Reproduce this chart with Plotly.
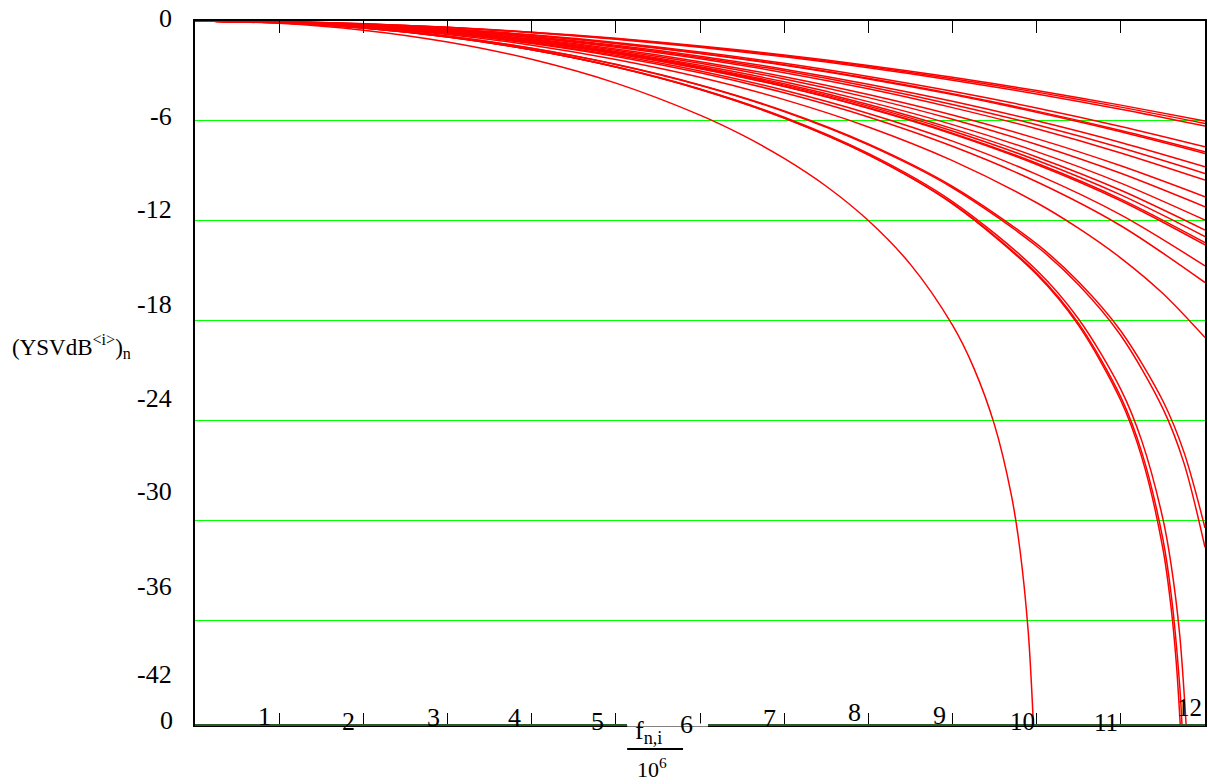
import plotly.graph_objects as go

# ---------------- data ----------------
x_std = [0, 1, 2, 3, 4, 5, 6, 7, 8, 9, 10, 11, 12]

ysv_a1 = [0, -0.04, -0.17, -0.38, -0.67, -1.04, -1.50, -2.04, -2.67, -3.38, -4.17, -5.05, -6.00]
ysv_a2 = [0, -0.04, -0.17, -0.38, -0.68, -1.07, -1.54, -2.09, -2.73, -3.46, -4.27, -5.17, -6.15]
ysv_a3 = [0, -0.04, -0.18, -0.39, -0.70, -1.10, -1.58, -2.15, -2.80, -3.55, -4.38, -5.30, -6.31]
ysv_b = [0, -0.05, -0.21, -0.46, -0.83, -1.29, -1.86, -2.54, -3.33, -4.22, -5.22, -6.33, -7.55]
ysv_c1 = [0, -0.05, -0.21, -0.48, -0.86, -1.34, -1.93, -2.63, -3.44, -4.37, -5.41, -6.57, -7.85]
ysv_c2 = [0, -0.05, -0.22, -0.49, -0.86, -1.35, -1.95, -2.66, -3.48, -4.42, -5.48, -6.65, -7.95]
ysv_d = [0, -0.06, -0.23, -0.52, -0.93, -1.46, -2.11, -2.89, -3.79, -4.82, -5.99, -7.29, -8.75]
ysv_e = [0, -0.06, -0.24, -0.54, -0.97, -1.52, -2.19, -2.99, -3.93, -5.01, -6.23, -7.61, -9.15]
ysv_f = [0, -0.06, -0.25, -0.56, -1.00, -1.57, -2.26, -3.10, -4.07, -5.20, -6.47, -7.92, -9.55]
ysv_g = [0, -0.07, -0.27, -0.60, -1.07, -1.68, -2.44, -3.34, -4.41, -5.64, -7.06, -8.69, -10.55]
ysv_h = [0, -0.07, -0.28, -0.62, -1.11, -1.75, -2.54, -3.48, -4.60, -5.90, -7.41, -9.14, -11.15]
ysv_i = [0, -0.07, -0.29, -0.65, -1.16, -1.83, -2.66, -3.65, -4.84, -6.22, -7.84, -9.73, -11.95]
ysv_j = [0, -0.07, -0.30, -0.67, -1.20, -1.88, -2.74, -3.77, -5.01, -6.46, -8.16, -10.16, -12.55]
ysv_k = [0, -0.08, -0.30, -0.68, -1.22, -1.92, -2.79, -3.85, -5.11, -6.60, -8.36, -10.44, -12.94]
ysv_l1 = [0, -0.08, -0.31, -0.69, -1.24, -1.95, -2.84, -3.92, -5.21, -6.73, -8.54, -10.69, -13.30]
ysv_l2 = [0, -0.08, -0.31, -0.70, -1.24, -1.96, -2.86, -3.94, -5.24, -6.78, -8.61, -10.79, -13.44]
ysv_m0 = [0, -0.08, -0.32, -0.73, -1.30, -2.06, -3.00, -4.16, -5.55, -7.21, -9.21, -11.64, -14.70]
ysv_m = [0, -0.08, -0.33, -0.75, -1.35, -2.13, -3.11, -4.31, -5.76, -7.52, -9.65, -12.29, -15.70]

x_n = [0, 1, 2, 3, 4, 5, 6, 7, 8, 9, 10, 10.5, 11, 11.5, 12]
ysv_n = [0, -0.09, -0.36, -0.81, -1.45, -2.31, -3.38, -4.72, -6.36, -8.38, -10.91, -12.45, -14.23, -16.36, -19.00]

x_o = [0, 1, 2, 3, 4, 5, 6, 7, 8, 9, 10, 10.5, 11, 11.5, 11.75, 12]
ysv_o1 = [0, -0.10, -0.40, -0.91, -1.64, -2.61, -3.86, -5.44, -7.44, -10.01, -13.52, -15.85, -18.88, -23.27, -26.54, -31.60]
ysv_o2 = [0, -0.10, -0.40, -0.90, -1.63, -2.60, -3.84, -5.40, -7.38, -9.93, -13.38, -15.67, -18.61, -22.81, -25.88, -30.43]

x_p1 = [0, 1, 2, 3, 4, 5, 6, 7, 8, 9, 10, 10.5, 11, 11.25, 11.5, 11.6, 11.66, 11.71]
ysv_p1 = [0, -0.10, -0.42, -0.96, -1.73, -2.77, -4.11, -5.83, -8.04, -10.98, -15.22, -18.29, -22.78, -26.21, -31.68, -35.33, -38.59, -42.60]

x_p1b = [0, 1, 2, 3, 4, 5, 6, 7, 8, 9, 10, 10.5, 11, 11.25, 11.5, 11.6, 11.7, 11.73]
ysv_p1b = [0, -0.10, -0.42, -0.96, -1.73, -2.76, -4.10, -5.82, -8.02, -10.95, -15.14, -18.17, -22.58, -25.91, -31.11, -34.50, -39.95, -42.60]

x_p2 = [0, 1, 2, 3, 4, 5, 6, 7, 8, 9, 10, 10.5, 11, 11.25, 11.5, 11.6, 11.7, 11.78]
ysv_p2 = [0, -0.10, -0.42, -0.95, -1.72, -2.75, -4.08, -5.77, -7.95, -10.84, -14.96, -17.90, -22.11, -25.22, -29.89, -32.72, -36.87, -42.60]

x_q = [0, 1, 2, 3, 4, 5, 6, 6.5, 7, 7.5, 8, 8.5, 9, 9.25, 9.5, 9.7, 9.8, 9.9, 9.96, 9.97]
ysv_q = [0, -0.14, -0.55, -1.26, -2.30, -3.73, -5.65, -6.84, -8.25, -9.92, -11.98, -14.61, -18.26, -20.79, -24.26, -28.48, -31.68, -36.67, -42.10, -43.40]

x_tick_vals = [1, 2, 3, 4, 5, 6, 7, 8, 9, 10, 11, 12]
x_tick_text = ["1", "2", "3", "4", "5", "6", "7", "8", "9", "10", "11", "12"]
y_grid_vals = [-36, -30, -24, -18, -12, -6]
y_tick_text = ["0", "-6", "-12", "-18", "-24", "-30", "-36", "-42"]
x_origin_text = "0"

# ---------------- figure ----------------
W, H = 1208, 784
PL, PR, PT, PB = 195, 1207, 21, 725
X_MIN, X_MAX = 0, 12
Y_MIN, Y_MAX = -42.26, 0


def px_x(p):
    return (p - PL) / (PR - PL)


def px_y(p):
    return (PB - p) / (PB - PT)


series = [
    (x_std, ysv_a1), (x_std, ysv_a2), (x_std, ysv_a3), (x_std, ysv_b),
    (x_std, ysv_c1), (x_std, ysv_c2), (x_std, ysv_d), (x_std, ysv_e),
    (x_std, ysv_f), (x_std, ysv_g), (x_std, ysv_h), (x_std, ysv_i),
    (x_std, ysv_j), (x_std, ysv_k), (x_std, ysv_l1), (x_std, ysv_l2),
    (x_std, ysv_m0), (x_std, ysv_m), (x_n, ysv_n), (x_o, ysv_o1),
    (x_o, ysv_o2), (x_p1, ysv_p1), (x_p1b, ysv_p1b), (x_p2, ysv_p2),
    (x_q, ysv_q),
]

fig = go.Figure()
for xs, ys in series:
    fig.add_trace(go.Scatter(
        x=xs, y=ys, mode="lines",
        line=dict(color="#ff0000", width=1.5, shape="spline", smoothing=0.9),
        hoverinfo="skip", showlegend=False,
    ))

FONT = "Liberation Serif"

annotations = []
# y tick labels (Mathcad places them with a drift)
y_label_centers = [19, 116.7, 210, 304.7, 398, 492, 586, 674]
for txt, cy in zip(y_tick_text, y_label_centers):
    annotations.append(dict(
        text=txt, xref="paper", yref="paper", x=px_x(174), y=px_y(cy),
        xanchor="right", yanchor="middle", showarrow=False,
        font=dict(family=FONT, size=26, color="black"),
    ))
annotations.append(dict(
    text=x_origin_text, xref="paper", yref="paper", x=px_x(175), y=px_y(720),
    xanchor="right", yanchor="middle", showarrow=False,
    font=dict(family=FONT, size=26, color="black"),
))

# x tick labels
x_label_right = [272, 356, 441, 523, 606, 695, 778, 863, 948, 1038, 1121, 1205]
x_label_cy = [716, 721, 717.5, 717.5, 721, 724, 718, 712, 715, 721, 722.5, 707.5]
for txt, rx, cy in zip(x_tick_text, x_label_right, x_label_cy):
    annotations.append(dict(
        text=txt, xref="paper", yref="paper", x=px_x(rx + 1), y=px_y(cy),
        xanchor="right", yanchor="middle", showarrow=False,
        font=dict(family=FONT, size=26 if len(txt) == 1 else 25, color="black"),
    ))

# axis titles
annotations.append(dict(
    text="(YSVdB<sup>&lt;i&gt;</sup>)<sub>n</sub>", xref="paper", yref="paper",
    x=px_x(10), y=px_y(347), xanchor="left", yanchor="middle", showarrow=False,
    font=dict(family=FONT, size=23, color="black"),
))
annotations.append(dict(
    text="f<sub>n,i</sub>", xref="paper", yref="paper",
    x=px_x(649), y=px_y(732), xanchor="center", yanchor="middle", showarrow=False,
    font=dict(family=FONT, size=26, color="black"),
))
annotations.append(dict(
    text="10<sup>6</sup>", xref="paper", yref="paper",
    x=px_x(653), y=px_y(768), xanchor="center", yanchor="middle", showarrow=False,
    font=dict(family=FONT, size=22, color="black"),
))

GAP_L = X_MIN + (628 - PL) / (PR - PL) * (X_MAX - X_MIN)
GAP_R = X_MIN + (709 - PL) / (PR - PL) * (X_MAX - X_MIN)
shapes = [
    dict(type="line", xref="x", yref="paper", x0=X_MIN, x1=GAP_L, y0=0, y1=0,
         line=dict(color="#2a5a2a", width=2), layer="above"),
    dict(type="line", xref="x", yref="paper", x0=GAP_L, x1=GAP_R, y0=0, y1=0,
         line=dict(color="white", width=3), layer="above"),
    dict(type="line", xref="x", yref="paper", x0=GAP_R, x1=X_MAX, y0=0, y1=0,
         line=dict(color="#2a5a2a", width=2), layer="above"),
    # fraction bar of the x-axis title
    dict(type="line", xref="paper", yref="paper", x0=px_x(628), x1=px_x(684),
         y0=px_y(749), y1=px_y(749), line=dict(color="black", width=2), layer="above"),
]

fig.update_layout(
    width=W, height=H,
    margin=dict(l=PL, r=W - PR, t=PT, b=H - PB),
    paper_bgcolor="white", plot_bgcolor="white",
    showlegend=False,
    annotations=annotations,
    shapes=shapes,
    xaxis=dict(
        range=[X_MIN, X_MAX], tickvals=x_tick_vals[:-1], showticklabels=False,
        ticks="inside", ticklen=12, tickwidth=1, tickcolor="black",
        showgrid=False, zeroline=False,
        showline=True, linecolor="black", linewidth=2, mirror="ticks",
    ),
    yaxis=dict(
        range=[Y_MIN, Y_MAX], tickvals=y_grid_vals, showticklabels=False,
        ticks="", showgrid=True, gridcolor="#00ff00", gridwidth=1,
        zeroline=False, showline=True, linecolor="black", linewidth=2, mirror=True,
    ),
)

fig.write_html(
    "out.html",
    config={"displayModeBar": False},
    post_script="document.body.style.margin='0px';document.body.style.overflow='hidden';",
)
